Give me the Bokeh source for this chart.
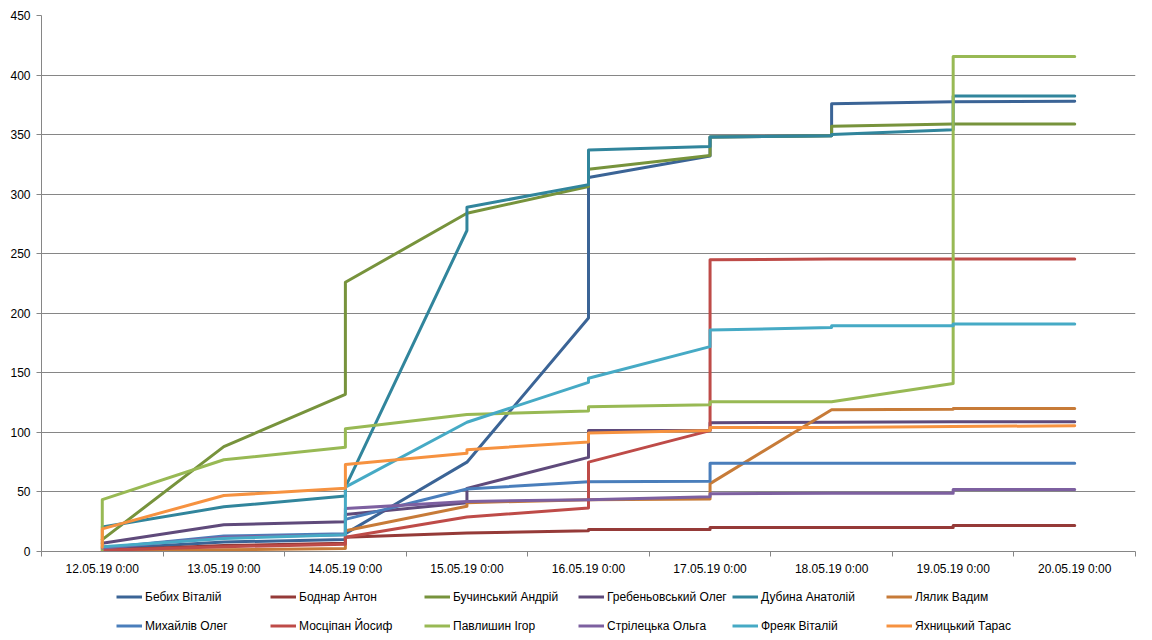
from bokeh.plotting import figure
from bokeh.layouts import column
from bokeh.models import Legend, LegendItem, FixedTicker, Range1d
from bokeh.embed import file_html
from bokeh.resources import INLINE

# day axis: 12.05.19 ... 20.05.19, several readings can fall on one day
dates = ["12.05.19 0:00", "13.05.19 0:00", "14.05.19 0:00", "15.05.19 0:00",
         "16.05.19 0:00", "17.05.19 0:00", "18.05.19 0:00", "19.05.19 0:00",
         "20.05.19 0:00"]
first_day = 12

names = ["Бебих Віталій", "Боднар Антон", "Бучинський Андрій", "Гребеньовський Олег",
         "Дубина Анатолій", "Лялик Вадим", "Михайлів Олег", "Мосціпан Йосиф",
         "Павлишин Ігор", "Стрілецька Ольга", "Фреяк Віталій", "Яхницький Тарас"]
colors = ["#3B6496", "#953A38", "#77933C", "#5F4A7B", "#31859C", "#C77B38",
          "#4A7EBB", "#BE4B48", "#98B954", "#7D60A0", "#46AAC5", "#F69240"]

bebykh_day = [12, 13, 14, 14, 15, 16, 16, 17, 17, 18, 18, 19, 20]
bebykh_val = [2, 8, 10, 15, 75, 196, 314, 332, 348, 349, 376, 377.5, 378]

bodnar_day = [12, 13, 14, 14, 15, 16, 16, 17, 17, 18, 19, 19, 20]
bodnar_val = [1, 5, 7, 12, 15.5, 17.5, 18.5, 18.5, 20.2, 20.2, 20.2, 21.8, 21.8]

buchynskyi_day = [12, 13, 14, 14, 15, 16, 16, 17, 17, 18, 18, 19, 20]
buchynskyi_val = [10, 88, 132, 226, 284, 306.5, 321, 332.5, 348, 349, 357, 359, 359]

hrebenovskyi_day = [12, 13, 14, 14, 15, 15, 16, 16, 17, 17, 18, 19, 20]
hrebenovskyi_val = [7, 22.5, 25, 31, 41, 53, 79, 101.5, 101.5, 108, 108.5, 109, 109]

dubyna_day = [12, 13, 14, 14, 15, 15, 16, 16, 17, 17, 18, 18, 19, 19, 20]
dubyna_val = [20.5, 37.5, 46.5, 54, 269.5, 289, 308, 337, 340, 348, 349, 350, 354, 382.5, 382.5]

lyalyk_day = [12, 13, 14, 14, 15, 15, 16, 17, 17, 18, 19, 19, 20]
lyalyk_val = [0.5, 1.5, 2.5, 17.5, 38, 41, 43.5, 44, 57, 119, 119.5, 120, 120]

mykhailiv_day = [12, 13, 14, 14, 15, 16, 17, 17, 18, 19, 20]
mykhailiv_val = [3, 13, 15, 27, 52.5, 58.5, 59, 74, 74, 74, 74]

mostsipan_day = [12, 13, 14, 14, 15, 16, 16, 17, 17, 18, 19, 20]
mostsipan_val = [1, 4, 6, 12, 29, 36.5, 75, 101.5, 245, 245.5, 245.5, 245.5]

pavlyshyn_day = [12, 12, 13, 14, 14, 15, 16, 16, 17, 17, 18, 19, 19, 20]
pavlyshyn_val = [1.5, 43.5, 77, 87.5, 103, 115, 118, 121.5, 123.2, 125.7, 125.7, 141, 415.5, 415.5]

striletska_day = [12, 13, 14, 14, 15, 16, 17, 17, 18, 19, 19, 20]
striletska_val = [3, 12, 14, 36, 42, 43.5, 46, 48.5, 49, 49, 52, 52]

freiak_day = [12, 13, 14, 14, 15, 16, 16, 17, 17, 18, 18, 19, 19, 20]
freiak_val = [4, 11, 14, 54, 108.5, 142, 145.5, 172, 186, 188, 189.5, 189.5, 191, 191]

yakhnytskyi_day = [12, 12, 13, 14, 14, 15, 15, 16, 16, 17, 17, 18, 19, 20]
yakhnytskyi_val = [3.5, 19, 47, 53, 73, 82.5, 85.5, 92, 99.5, 101.5, 104, 104, 105, 105.5]

series = [(bebykh_day, bebykh_val), (bodnar_day, bodnar_val),
          (buchynskyi_day, buchynskyi_val), (hrebenovskyi_day, hrebenovskyi_val),
          (dubyna_day, dubyna_val), (lyalyk_day, lyalyk_val),
          (mykhailiv_day, mykhailiv_val), (mostsipan_day, mostsipan_val),
          (pavlyshyn_day, pavlyshyn_val), (striletska_day, striletska_val),
          (freiak_day, freiak_val), (yakhnytskyi_day, yakhnytskyi_val)]

font = "Liberation Sans"
grey = "#868686"
lw = 3

p = figure(width=1152, height=582, output_backend="svg", toolbar_location=None,
           x_range=Range1d(-0.5, len(dates) - 0.5), y_range=Range1d(0, 450),
           min_border_left=41, min_border_right=17, min_border_top=15,
           min_border_bottom=31)
p.outline_line_color = None
p.xgrid.grid_line_color = None
p.ygrid.grid_line_color = grey
p.ygrid.ticker = FixedTicker(ticks=list(range(0, 451, 50)))

for (days, vals), c in zip(series, colors):
    p.line([d - first_day for d in days], vals, line_color=c,
           line_width=lw, line_join="round", line_cap="round")

p.yaxis.ticker = FixedTicker(ticks=list(range(0, 451, 50)))
p.yaxis.axis_line_color = grey
p.yaxis.major_tick_line_color = grey
p.yaxis.major_tick_in = 0
p.yaxis.major_tick_out = 5
p.yaxis.minor_tick_line_color = None
p.yaxis.major_label_standoff = 6

p.xaxis.ticker = FixedTicker(ticks=list(range(len(dates))),
                             minor_ticks=[i - 0.5 for i in range(len(dates) + 1)])
p.xaxis.major_label_overrides = {i: d for i, d in enumerate(dates)}
p.xaxis.axis_line_color = grey
p.xaxis.major_tick_in = 0
p.xaxis.major_tick_out = 0
p.xaxis.minor_tick_line_color = grey
p.xaxis.minor_tick_in = 0
p.xaxis.minor_tick_out = 5
p.xaxis.major_label_standoff = 5

for ax in (p.xaxis, p.yaxis):
    ax.major_label_text_font = font
    ax.major_label_text_font_size = "12px"
    ax.major_label_text_color = "#000000"

# legend strip: same series, hidden, only their legend entries show
leg = figure(width=1152, height=58, output_backend="svg", toolbar_location=None,
             x_range=Range1d(-0.5, len(dates) - 0.5), y_range=Range1d(0, 450),
             min_border=0)
leg.axis.visible = False
leg.grid.visible = False
leg.outline_line_color = None

items = []
for (days, vals), name, c in zip(series, names, colors):
    r = leg.line([d - first_day for d in days], vals, line_color=c, line_width=lw)
    r.visible = False
    items.append(LegendItem(label=name, renderers=[r]))

legend = Legend(items=items, orientation="horizontal", ncols=6, location=(75, 0),
                label_text_font=font, label_text_font_size="12px",
                label_text_color="#000000",
                glyph_width=26, glyph_height=29, label_height=29, label_width=125,
                label_standoff=3, spacing=0, padding=0, margin=0,
                border_line_color=None, background_fill_alpha=0,
                inactive_fill_alpha=0)
leg.add_layout(legend, "center")

page = column(p, leg, spacing=0)
open("out.html", "w").write(file_html(page, INLINE))
